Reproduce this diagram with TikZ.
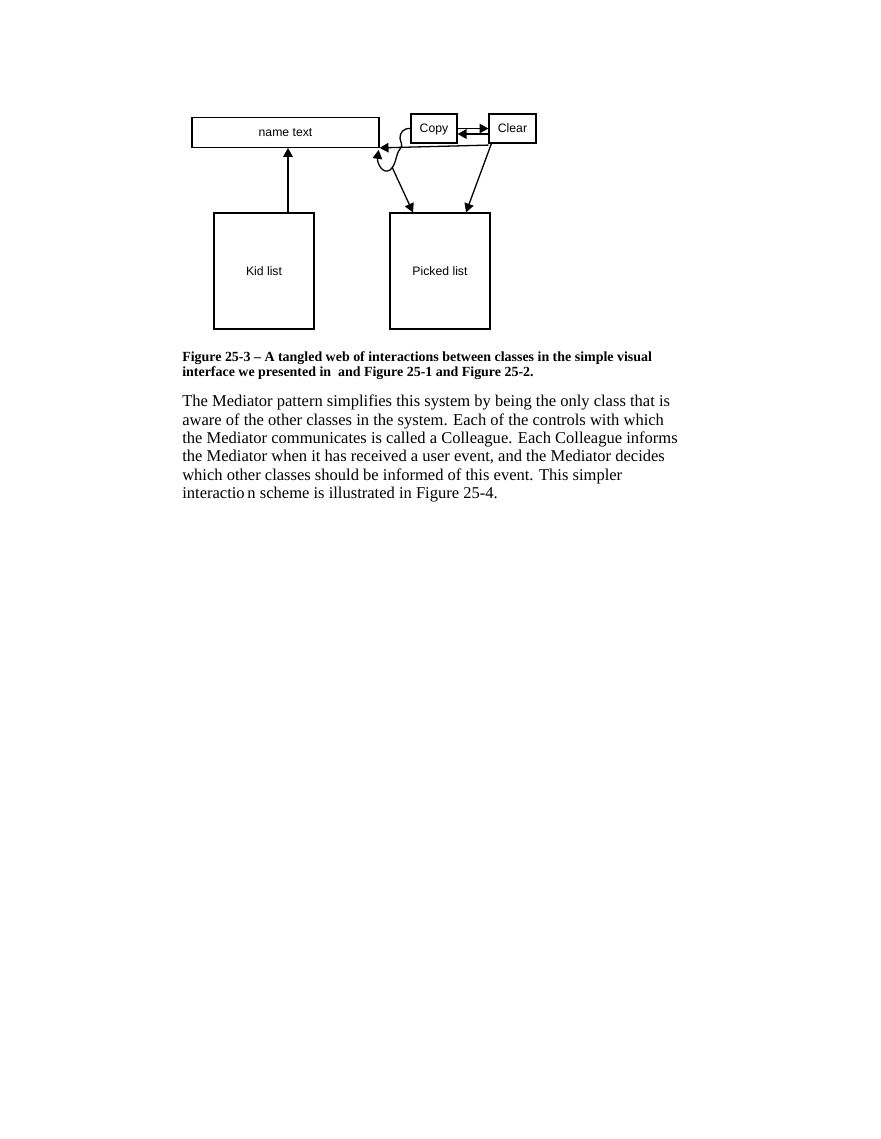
\documentclass[tikz,border=0pt]{standalone}
\usepackage{fontspec}
\setmainfont{Liberation Serif}
\newfontfamily\diagfont{Liberation Sans}
\usetikzlibrary{calc}
\usetikzlibrary{arrows.meta}

\begin{document}
\begin{tikzpicture}[x=0.6955pt,y=-0.6955pt]
    \tikzstyle{box}=[draw,line width=0.8pt,inner sep=0pt,text height=6pt,text depth=0pt,font=\diagfont\fontsize{8.5pt}{10pt}\selectfont]
    \tikzstyle{link}=[-{Triangle[length=6.2pt,width=6.6pt]},line width=0.9pt]
    \tikzstyle{caption text}=[anchor=base west,inner sep=0pt,font=\bfseries\fontsize{9.7pt}{11pt}\selectfont]
    \tikzstyle{body text}=[anchor=base west,inner sep=0pt,font=\fontsize{11.5pt}{13pt}\selectfont]

    \useasboundingbox (0,0) rectangle (880,1139);

    % Boxes
    \node[style=box,minimum width=130.1pt,minimum height=20.9pt] (name) at (285.5,132.3) {name text};
    \node[style=box,minimum width=32pt,minimum height=20.2pt] (copy) at (434,128.5) {Copy};
    \node[style=box,minimum width=32.7pt,minimum height=20.2pt] (clear) at (512.5,128.5) {Clear};
    \node[style=box,minimum width=69.55pt,minimum height=80.7pt] (kid) at (264,271) {Kid list};
    \node[style=box,minimum width=69.55pt,minimum height=80.7pt] (picked) at (440,271) {Picked list};

    % Kid list
    \coordinate (kid top) at ($(kid.north)+(24,0)$);
    \draw[style=link] (kid top) -- (kid top |- name.south);

    % Copy and Clear
    \draw[style=link] (copy.east) -- (clear.west);
    \draw[style=link] ($(clear.west)+(0,5.5)$) -- ($(copy.east)+(0,5.5)$);
    \draw[style=link] ($(clear.south west)+(0,1.5)$) -- (name.south east);
    \draw[style=link] ($(clear.south west)+(3,0)$) -- ($(picked.north)+(26,0)$);

    % Tangle from Copy
    \coordinate (fork) at (392,167);
    \draw[style=link] (copy.west) .. controls (403,128) and (400,133) .. (400,138)
        .. controls (400,142) and (404,145) .. (400,149)
        .. controls (396,153) and (396,166) .. (390,170)
        .. controls (382,175) and (377,162) .. ($(name.south east)+(-1,2)$);
    \draw[style=link] (fork) -- ($(picked.north)+(-27,0)$);

    % Caption
    \node[style=caption text] (cap0) at (182,361.7) {Figure 25-3 -- A tangled web of interactions between classes in the simple visual};
    \node[style=caption text] (cap1) at (182,376.7) {interface we presented in \ and Figure 25-1 and Figure 25-2.};

    % Body
    \foreach \i/\t in {0/{The Mediator pattern simplifies this system by being the only class that is},
                       1/{aware of the other classes in the system. Each of the controls with which},
                       2/{the Mediator communicates is called a Colleague. Each Colleague informs},
                       3/{the Mediator when it has received a user event, and the Mediator decides},
                       4/{which other classes should be informed of this event. This simpler},
                       5/{interactio\,n scheme is illustrated in Figure 25-4.}}
        \node[style=body text] (body\i) at (182,{406.7+18.4*\i}) {\t};

\end{tikzpicture}
\end{document}
